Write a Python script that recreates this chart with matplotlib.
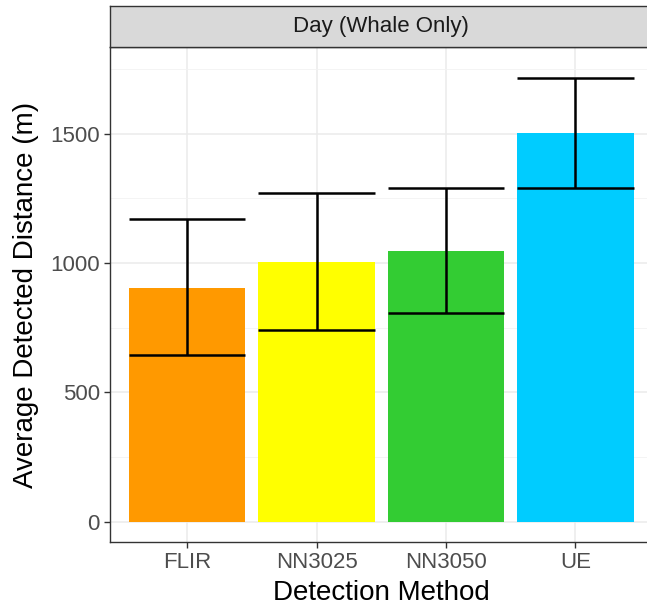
import matplotlib
matplotlib.use("Agg")
import matplotlib.pyplot as plt
import numpy as np

# valores
metodos = ["FLIR", "NN3025", "NN3050", "UE"]
media = [903, 1004, 1047, 1502]
erro_inf = [643, 740, 806, 1290]
erro_sup = [1169, 1271, 1289, 1716]
cores = ["#FF9900", "#FFFF00", "#33CC33", "#00CCFF"]
titulo_painel = "Day (Whale Only)"

plt.rcParams["font.family"] = ["Liberation Sans", "DejaVu Sans"]

W, H = 647, 607
fig = plt.figure(figsize=(W / 100, H / 100), dpi=100)

x0, x1 = 109.5 / W, 653 / W
y_bot, y_top = (H - 542) / H, (H - 47) / H
ax = fig.add_axes([x0, y_bot, x1 - x0, y_top - y_bot])

x = np.arange(1, len(metodos) + 1)
ax.bar(x, media, width=0.9, color=cores, zorder=3)

# barras de erro com capa do tamanho da barra
for xi, lo, hi in zip(x, erro_inf, erro_sup):
    ax.plot([xi, xi], [lo, hi], color="black", lw=1.8, zorder=4, solid_capstyle="butt")
    ax.plot([xi - 0.45, xi + 0.45], [lo, lo], color="black", lw=1.8, zorder=4, solid_capstyle="butt")
    ax.plot([xi - 0.45, xi + 0.45], [hi, hi], color="black", lw=1.8, zorder=4, solid_capstyle="butt")

ax.set_xlim(0.4, 4.6)
ax.set_ylim(-78, 1835)
ax.set_xticks(x)
ax.set_xticklabels(metodos)
ax.set_yticks([0, 500, 1000, 1500])
ax.set_yticks([250, 750, 1250, 1750], minor=True)

ax.grid(True, which="major", color="#EBEBEB", lw=1.1, zorder=0)
ax.grid(True, which="minor", axis="y", color="#F2F2F2", lw=0.6, zorder=0)
ax.set_axisbelow(True)

for s in ax.spines.values():
    s.set_color("#333333")
    s.set_linewidth(1.0)

ax.tick_params(axis="both", which="major", length=4, width=1.0, color="#333333",
               labelcolor="#4D4D4D", labelsize=16, pad=3)
ax.tick_params(axis="y", which="minor", length=0)

ax.set_xlabel("Detection Method", fontsize=20, labelpad=5.5)
ax.set_ylabel("Average Detected Distance (m)", fontsize=20, labelpad=8)

# faixa do painel (estilo facet)
strip = fig.add_axes([x0, y_top, x1 - x0, 41.5 / H])
strip.set_facecolor("#D9D9D9")
strip.set_xticks([])
strip.set_yticks([])
for s in strip.spines.values():
    s.set_color("#333333")
    s.set_linewidth(1.0)
strip.text(0.5, 0.5, titulo_painel, ha="center", va="center", fontsize=16,
           color="#1A1A1A", transform=strip.transAxes)

fig.savefig("out.png", dpi=100)
